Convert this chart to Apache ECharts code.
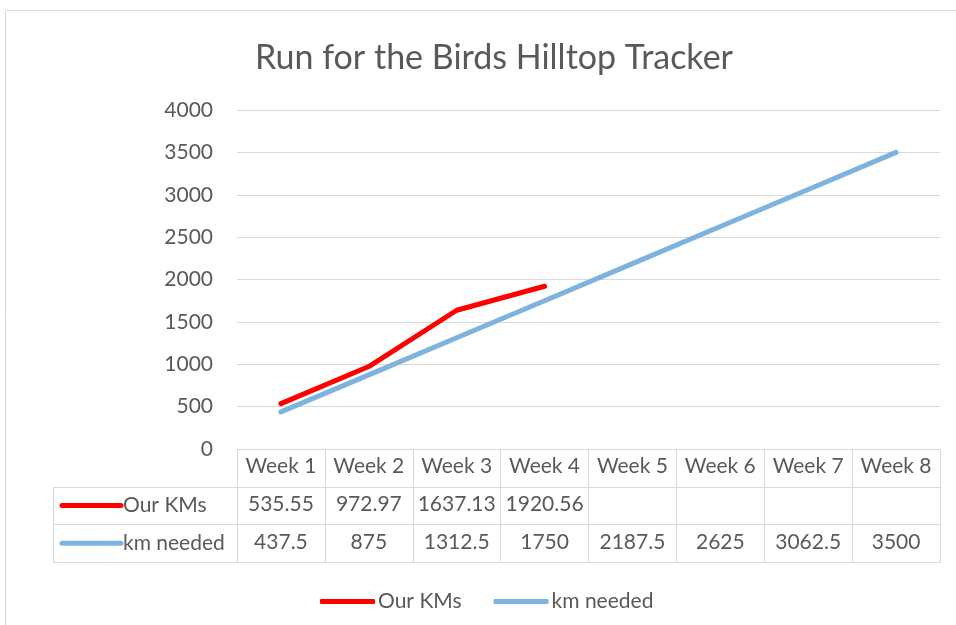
<!DOCTYPE html>
<html>
<head>
<meta charset="utf-8">
<script src="https://cdn.jsdelivr.net/npm/echarts@6/dist/echarts.min.js"></script>
<style>
  html, body { margin: 0; padding: 0; background: #fff; }
  #chart { width: 956px; height: 625px; }
</style>
</head>
<body>
<div id="chart"></div>
<script>
// data
var weeks = ['Week 1', 'Week 2', 'Week 3', 'Week 4', 'Week 5', 'Week 6', 'Week 7', 'Week 8'];
var ourKms = [535.55, 972.97, 1637.13, 1920.56, null, null, null, null];
var kmNeeded = [437.5, 875, 1312.5, 1750, 2187.5, 2625, 3062.5, 3500];
var yTicks = [0, 500, 1000, 1500, 2000, 2500, 3000, 3500, 4000];

var chart = echarts.init(document.getElementById('chart'));

var FONT = 'Lato';
var FS = 21;
var TXT = '#595959';
var LINE = '#d9d9d9';
var RED = '#ff0000';
var BLUE = '#7fb3df';

// layout of plot + data table
var gl = 237, gr = 940, gt = 110, gb = 449;
var rowH = 37.7;
var tableLeft = 53;

function cellText(v) { return v == null ? '' : String(v); }

var tableLines = [];
// horizontal lines of the table rows
for (var i = 1; i <= 3; i++) {
    var y = Math.round(gb + rowH * i) + 0.5;
    tableLines.push({
        type: 'line', silent: true,
        shape: { x1: tableLeft, y1: y, x2: gr, y2: y },
        style: { stroke: LINE, lineWidth: 1 }
    });
}
tableLines.push({
    type: 'line', silent: true,
    shape: { x1: tableLeft + 0.5, y1: Math.round(gb + rowH) + 0.5, x2: tableLeft + 0.5, y2: Math.round(gb + rowH * 3) + 0.5 },
    style: { stroke: LINE, lineWidth: 1 }
});
// legend keys inside the table
var keys = [['Our KMs', RED], ['km needed', BLUE]];
keys.forEach(function (k, j) {
    var cy = gb + rowH * (j + 1.5);
    tableLines.push({
        type: 'line', silent: true,
        shape: { x1: 62, y1: cy, x2: 121, y2: cy },
        style: { stroke: k[1], lineWidth: 5, lineCap: 'round' }
    });
    tableLines.push({
        type: 'text', silent: true,
        x: 123, y: cy,
        style: { text: k[0], font: FS + 'px ' + FONT, fill: TXT, textVerticalAlign: 'middle' }
    });
});
// outer chart border
tableLines.push({
    type: 'rect', silent: true,
    shape: { x: 5.5, y: 10.5, width: 1000, height: 1000 },
    style: { fill: 'none', stroke: LINE, lineWidth: 1 }
});

var labelStyle = { fontFamily: FONT, fontSize: FS, color: TXT, margin: 7, interval: 0 };

var option = {
    animation: false,
    backgroundColor: '#fff',
    title: {
        text: 'Run for the Birds Hilltop Tracker',
        left: 489, top: 36, textAlign: 'center',
        textStyle: { fontFamily: FONT, fontSize: 34, fontWeight: 'normal', color: TXT }
    },
    legend: {
        bottom: 13, left: 320, padding: 0,
        itemWidth: 55, itemHeight: 5, itemGap: 32,
        icon: 'roundRect',
        textStyle: { fontFamily: FONT, fontSize: FS, color: TXT, padding: [0, 0, 0, -2] },
        data: ['Our KMs', 'km needed']
    },
    grid: { left: gl, right: 956 - gr, top: gt, bottom: 625 - gb },
    xAxis: [
        {
            type: 'category', data: weeks, boundaryGap: true,
            axisLine: { lineStyle: { color: LINE } },
            axisTick: { show: true, length: Math.round(rowH * 3) + 1, interval: 0, lineStyle: { color: LINE } },
            axisLabel: labelStyle
        },
        {
            type: 'category', data: ourKms.map(cellText), position: 'bottom', offset: rowH,
            axisLine: { show: false }, axisTick: { show: false },
            axisLabel: labelStyle
        },
        {
            type: 'category', data: kmNeeded.map(cellText), position: 'bottom', offset: rowH * 2,
            axisLine: { show: false }, axisTick: { show: false },
            axisLabel: labelStyle
        }
    ],
    yAxis: {
        type: 'value', min: yTicks[0], max: yTicks[yTicks.length - 1], interval: 500,
        axisLine: { show: false }, axisTick: { show: false },
        axisLabel: { fontFamily: FONT, fontSize: FS, color: TXT, margin: 24, formatter: function (v) { return String(v); } },
        splitLine: { lineStyle: { color: LINE, width: 1 } }
    },
    series: [
        {
            name: 'Our KMs', type: 'line', data: ourKms, xAxisIndex: 0,
            symbol: 'none', lineStyle: { color: RED, width: 5, cap: 'round' }, itemStyle: { color: RED }
        },
        {
            name: 'km needed', type: 'line', data: kmNeeded, xAxisIndex: 0,
            symbol: 'none', lineStyle: { color: BLUE, width: 5, cap: 'round' }, itemStyle: { color: BLUE }
        }
    ],
    graphic: tableLines
};
chart.setOption(option);
</script>
</body>
</html>
